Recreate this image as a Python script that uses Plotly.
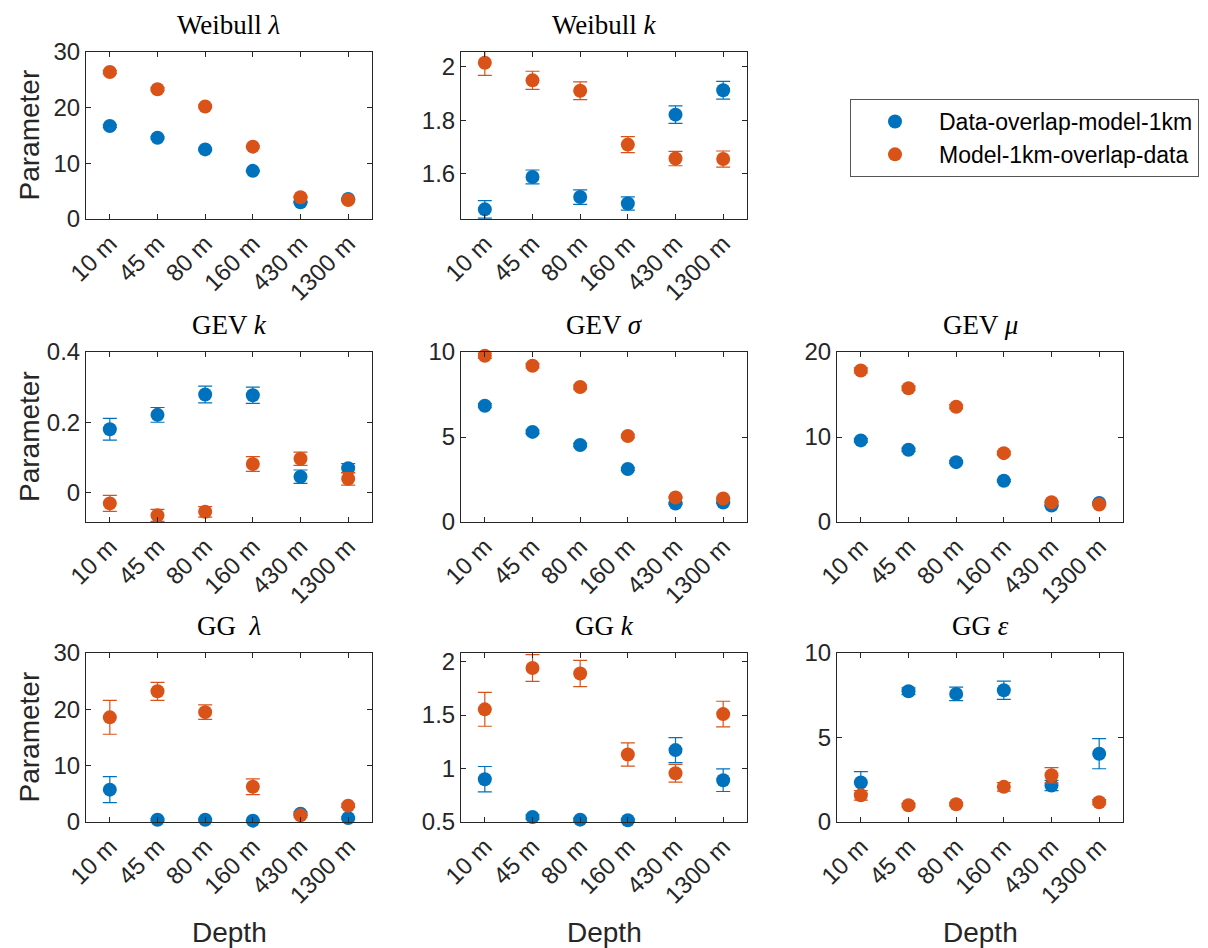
import plotly.graph_objects as go

W, H = 1208, 948

depths = ["10 m", "45 m", "80 m", "160 m", "430 m", "1300 m"]
positions = [1, 2, 3, 4, 5, 6]

series_names = ["Data-overlap-model-1km", "Model-1km-overlap-data"]
colors = ["#0072BD", "#D95319"]

# ---- values (data series, model series) and errors ----
weib_lam_data = [16.7, 14.6, 12.5, 8.65, 3.0, 3.6]
weib_lam_data_err = [0.25, 0.2, 0.2, 0.15, 0.1, 0.1]
weib_lam_model = [26.4, 23.3, 20.2, 13.0, 3.9, 3.4]
weib_lam_model_err = [0.3, 0.25, 0.25, 0.2, 0.1, 0.1]

weib_k_data = [1.467, 1.588, 1.513, 1.489, 1.821, 1.912]
weib_k_data_err = [0.033, 0.026, 0.027, 0.025, 0.033, 0.033]
weib_k_model = [2.015, 1.949, 1.910, 1.709, 1.657, 1.655]
weib_k_model_err = [0.047, 0.034, 0.033, 0.030, 0.027, 0.030]

gev_k_data = [0.180, 0.221, 0.279, 0.277, 0.045, 0.069]
gev_k_data_err = [0.031, 0.021, 0.024, 0.023, 0.019, 0.013]
gev_k_model = [-0.031, -0.065, -0.055, 0.081, 0.096, 0.039]
gev_k_model_err = [0.023, 0.017, 0.015, 0.021, 0.019, 0.018]

gev_s_data = [6.84, 5.30, 4.53, 3.12, 1.09, 1.15]
gev_s_data_err = [0.12, 0.1, 0.1, 0.08, 0.05, 0.05]
gev_s_model = [9.78, 9.19, 7.94, 5.06, 1.44, 1.38]
gev_s_model_err = [0.15, 0.13, 0.12, 0.1, 0.05, 0.05]

gev_m_data = [9.60, 8.50, 7.04, 4.86, 1.94, 2.25]
gev_m_data_err = [0.2, 0.2, 0.15, 0.12, 0.08, 0.08]
gev_m_model = [17.83, 15.73, 13.56, 8.10, 2.33, 2.06]
gev_m_model_err = [0.3, 0.25, 0.25, 0.2, 0.08, 0.08]

gg_lam_data = [5.74, 0.41, 0.41, 0.24, 1.48, 0.71]
gg_lam_data_err = [2.3, 0.2, 0.2, 0.1, 0.3, 0.2]
gg_lam_model = [18.58, 23.2, 19.5, 6.27, 1.18, 2.9]
gg_lam_model_err = [3.0, 1.6, 1.3, 1.4, 0.3, 0.3]

gg_k_data = [0.900, 0.547, 0.522, 0.516, 1.172, 0.891]
gg_k_data_err = [0.119, 0.02, 0.015, 0.01, 0.117, 0.106]
gg_k_model = [1.553, 1.940, 1.888, 1.131, 0.956, 1.509]
gg_k_model_err = [0.158, 0.125, 0.123, 0.108, 0.083, 0.120]

gg_eps_data = [2.34, 7.74, 7.58, 7.80, 2.16, 4.04]
gg_eps_data_err = [0.64, 0.2, 0.4, 0.54, 0.3, 0.89]
gg_eps_model = [1.58, 0.99, 1.05, 2.08, 2.77, 1.17]
gg_eps_model_err = [0.28, 0.1, 0.1, 0.25, 0.45, 0.15]

panel_titles = ["Weibull <i>λ</i>", "Weibull <i>k</i>", "GEV <i>k</i>", "GEV <i>σ</i>",
                "GEV <i>μ</i>", "GG  <i>λ</i>", "GG <i>k</i>", "GG <i>ε</i>"]

panel_series = [
    (weib_lam_data, weib_lam_data_err, weib_lam_model, weib_lam_model_err),
    (weib_k_data, weib_k_data_err, weib_k_model, weib_k_model_err),
    (gev_k_data, gev_k_data_err, gev_k_model, gev_k_model_err),
    (gev_s_data, gev_s_data_err, gev_s_model, gev_s_model_err),
    (gev_m_data, gev_m_data_err, gev_m_model, gev_m_model_err),
    (gg_lam_data, gg_lam_data_err, gg_lam_model, gg_lam_model_err),
    (gg_k_data, gg_k_data_err, gg_k_model, gg_k_model_err),
    (gg_eps_data, gg_eps_data_err, gg_eps_model, gg_eps_model_err),
]

y_ranges = [[0, 30], [1.431, 2.055], [-0.084, 0.4], [0, 10], [0, 20], [0, 30], [0.5, 2.08], [0, 10]]
y_tickvals = [[0, 10, 20, 30], [1.6, 1.8, 2], [0, 0.2, 0.4], [0, 5, 10], [0, 10, 20],
              [0, 10, 20, 30], [0.5, 1, 1.5, 2], [0, 5, 10]]
y_ticktext = [["0", "10", "20", "30"], ["1.6", "1.8", "2"], ["0", "0.2", "0.4"], ["0", "5", "10"],
              ["0", "10", "20"], ["0", "10", "20", "30"], ["0.5", "1", "1.5", "2"], ["0", "5", "10"]]

# layout geometry (pixels)
col_px = [(86, 372), (461, 747), (837, 1123)]
row_px = [(52, 219), (352, 522), (653, 822)]
cells = [(0, 0), (0, 1), (1, 0), (1, 1), (1, 2), (2, 0), (2, 1), (2, 2)]

ink = "#262626"
tick_font = dict(family="Liberation Sans, Arial, sans-serif", size=24, color=ink)

fig = go.Figure()
layout = {}
annotations = []

for i, ((r, c), title, ser) in enumerate(zip(cells, panel_titles, panel_series)):
    n = i + 1
    xa = "x" if n == 1 else f"x{n}"
    ya = "y" if n == 1 else f"y{n}"
    x0, x1 = col_px[c]
    y0, y1 = row_px[r]
    dom_x = [x0 / W, x1 / W]
    dom_y = [1 - y1 / H, 1 - y0 / H]
    for s in range(2):
        vals = ser[2 * s]
        errs = ser[2 * s + 1]
        fig.add_trace(go.Scatter(
            x=positions, y=vals, mode="markers",
            name=series_names[s], showlegend=(i == 0),
            legendgroup=series_names[s],
            marker=dict(color=colors[s], size=14, line=dict(width=0)),
            error_y=dict(type="data", array=errs, visible=True, color=colors[s],
                         thickness=1.2, width=7),
            cliponaxis=False,
            xaxis=xa, yaxis=ya,
        ))
    key_x = "xaxis" if n == 1 else f"xaxis{n}"
    key_y = "yaxis" if n == 1 else f"yaxis{n}"
    layout[key_x] = dict(domain=dom_x, range=[0.5, 6.5], anchor=ya, automargin=False,
                         tickvals=positions, ticktext=depths, tickangle=-45,
                         showline=True, linecolor=ink, linewidth=1, mirror="ticks",
                         ticks="inside", ticklen=5, tickcolor=ink,
                         showgrid=False, zeroline=False, tickfont=tick_font)
    layout[key_y] = dict(domain=dom_y, range=y_ranges[i], anchor=xa, automargin=False,
                         tickvals=y_tickvals[i], ticktext=y_ticktext[i],
                         showline=True, linecolor=ink, linewidth=1, mirror="ticks",
                         ticks="inside", ticklen=5, tickcolor=ink,
                         showgrid=False, zeroline=False, tickfont=tick_font)
    # panel title
    annotations.append(dict(text=title, x=(x0 + x1) / 2 / W, y=1 - (y0 - 27) / H,
                            xref="paper", yref="paper", showarrow=False,
                            xanchor="center", yanchor="middle",
                            font=dict(family="Liberation Serif, Times New Roman, serif",
                                      size=27, color="black")))

for (y0, y1) in row_px:
    annotations.append(dict(text="Parameter", x=29 / W, y=1 - (y0 + y1) / 2 / H,
                            xref="paper", yref="paper", showarrow=False, textangle=-90,
                            xanchor="center", yanchor="middle",
                            font=dict(family="Liberation Sans, Arial, sans-serif", size=28, color=ink)))
for (x0, x1) in col_px:
    annotations.append(dict(text="Depth", x=(x0 + x1) / 2 / W, y=1 - 932 / H,
                            xref="paper", yref="paper", showarrow=False,
                            xanchor="center", yanchor="middle",
                            font=dict(family="Liberation Sans, Arial, sans-serif", size=28, color=ink)))

fig.update_layout(
    template="none",
    width=W, height=H,
    margin=dict(l=0, r=0, t=0, b=0, pad=0, autoexpand=False),
    paper_bgcolor="white", plot_bgcolor="white",
    showlegend=True,
    legend=dict(x=850 / W, y=1 - 99 / H, xanchor="left", yanchor="top",
                bordercolor="#555555", borderwidth=1, bgcolor="white",
                font=dict(family="Liberation Sans, Arial, sans-serif", size=23, color="black"),
                itemwidth=78, tracegroupgap=0),
    annotations=annotations,
    **layout,
)

fig.write_html("out.html")
